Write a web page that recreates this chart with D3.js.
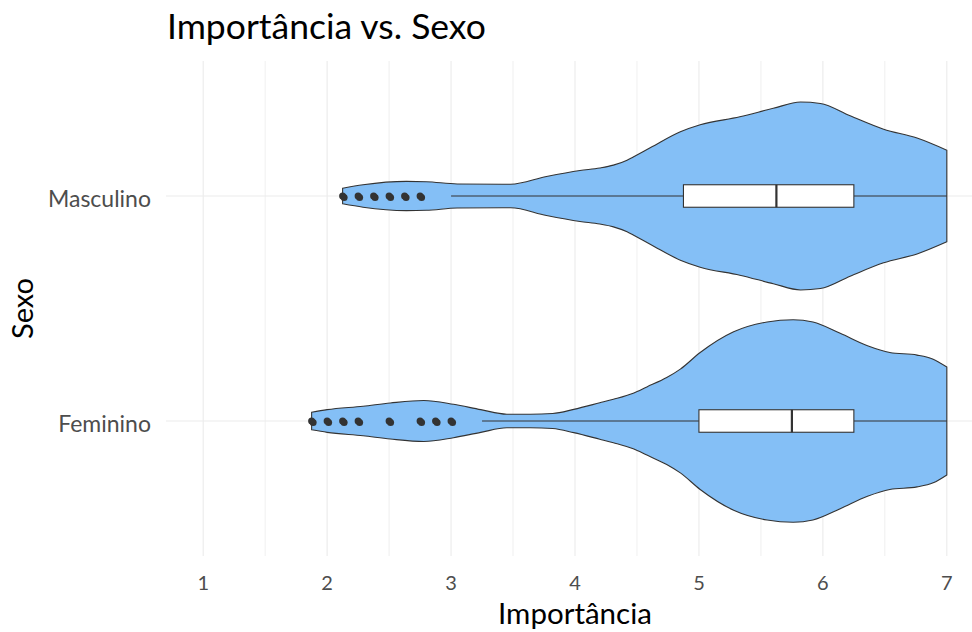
<!DOCTYPE html>
<html>
<head>
<meta charset="utf-8">
<script src="https://cdn.jsdelivr.net/npm/d3@7"></script>
<style>
  html, body { margin: 0; padding: 0; background: #fff; }
  svg { display: block; }
  text { font-family: Lato, "Open Sans", sans-serif; }
</style>
</head>
<body>
<svg id="chart" width="972" height="632"></svg>
<script>
// ---- data ----
const categories = ["Masculino", "Feminino"];
const xTicks = [1, 2, 3, 4, 5, 6, 7];
const xMinorTicks = [1.5, 2.5, 3.5, 4.5, 5.5, 6.5];

// violin density profiles (value grid, relative width)
const mascGrid  = [2.125, 2.29, 2.64, 2.80, 3.05, 3.48, 3.77, 4.04, 4.20, 4.31, 4.42, 4.47, 4.61, 4.85, 5.01, 5.33, 5.60, 5.82, 5.98, 6.22, 6.49, 6.76, 7.0];
const mascWidth = [0.077, 0.111, 0.144, 0.141, 0.119, 0.116, 0.193, 0.252, 0.277, 0.305, 0.354, 0.386, 0.478, 0.634, 0.703, 0.782, 0.866, 0.928, 0.914, 0.792, 0.660, 0.572, 0.452];

const femGrid  = [1.875, 2.0, 2.29, 2.51, 2.78, 3.02, 3.24, 3.45, 3.64, 3.82, 3.99, 4.20, 4.31, 4.47, 4.58, 4.74, 4.85, 5.01, 5.28, 5.55, 5.76, 5.92, 6.14, 6.36, 6.54, 6.76, 6.89, 7.0];
const femWidth = [0.087, 0.112, 0.146, 0.178, 0.203, 0.165, 0.112, 0.067, 0.066, 0.074, 0.115, 0.180, 0.215, 0.275, 0.337, 0.429, 0.512, 0.676, 0.881, 0.978, 1.0, 0.977, 0.866, 0.743, 0.676, 0.651, 0.611, 0.533];

// boxplot stats: [q1, median, q3], whiskers [low, high]
const mascBox = [4.875, 5.625, 6.25];
const mascWhisker = [3.0, 7.0];
const mascOutliers = [2.125, 2.25, 2.375, 2.5, 2.625, 2.75];

const femBox = [5.0, 5.75, 6.25];
const femWhisker = [3.25, 7.0];
const femOutliers = [1.875, 2.0, 2.125, 2.25, 2.5, 2.75, 2.875, 3.0];

const titleText = "Importância vs. Sexo";
const xLabel = "Importância";
const yLabel = "Sexo";

// ---- layout ----
const panel = { left: 166, right: 984, top: 61, bottom: 556 };
const svg = d3.select("#chart");

const x = d3.scaleLinear().domain([0.7, 7.3]).range([panel.left, panel.right]);
const y = d3.scalePoint().domain(categories).range([panel.top, panel.bottom]).padding(0.6);
const step = y.step();
const halfW = d3.scaleLinear().domain([0, 1]).range([0, step * 0.45]);
const boxHalf = step * 0.05;

const gridColor = "#EBEBEB";
const ink = "#333333";
const fill = "#84BFF6";

// grid
const g = svg.append("g");
g.selectAll(".minor").data(xMinorTicks).join("line")
  .attr("x1", d => x(d)).attr("x2", d => x(d))
  .attr("y1", panel.top).attr("y2", panel.bottom)
  .attr("stroke", gridColor).attr("stroke-width", 0.8);
g.selectAll(".major").data(xTicks).join("line")
  .attr("x1", d => x(d)).attr("x2", d => x(d))
  .attr("y1", panel.top).attr("y2", panel.bottom)
  .attr("stroke", gridColor).attr("stroke-width", 1.1);
g.selectAll(".hgrid").data(categories).join("line")
  .attr("x1", panel.left).attr("x2", 972)
  .attr("y1", d => y(d)).attr("y2", d => y(d))
  .attr("stroke", gridColor).attr("stroke-width", 1.1);

const groups = [
  { cat: "Masculino", grid: mascGrid, width: mascWidth, box: mascBox, wh: mascWhisker, out: mascOutliers },
  { cat: "Feminino", grid: femGrid, width: femWidth, box: femBox, wh: femWhisker, out: femOutliers }
];

groups.forEach(gr => {
  const cy = y(gr.cat);
  const pts = gr.grid.map((v, i) => ({ v, w: gr.width[i] }));
  const area = d3.area()
    .x(d => x(d.v))
    .y0(d => cy - halfW(d.w))
    .y1(d => cy + halfW(d.w))
    .curve(d3.curveMonotoneX);
  svg.append("path").attr("d", area(pts))
    .attr("fill", fill).attr("stroke", ink).attr("stroke-width", 1.1);

  // whiskers
  svg.append("line")
    .attr("x1", x(gr.wh[0])).attr("x2", x(gr.box[0]))
    .attr("y1", cy).attr("y2", cy)
    .attr("stroke", ink).attr("stroke-width", 1.1);
  svg.append("line")
    .attr("x1", x(gr.box[2])).attr("x2", x(gr.wh[1]))
    .attr("y1", cy).attr("y2", cy)
    .attr("stroke", ink).attr("stroke-width", 1.1);
  // box
  svg.append("rect")
    .attr("x", x(gr.box[0])).attr("y", cy - boxHalf)
    .attr("width", x(gr.box[2]) - x(gr.box[0])).attr("height", boxHalf * 2)
    .attr("fill", "#ffffff").attr("stroke", ink).attr("stroke-width", 1.1);
  svg.append("line")
    .attr("x1", x(gr.box[1])).attr("x2", x(gr.box[1]))
    .attr("y1", cy - boxHalf).attr("y2", cy + boxHalf)
    .attr("stroke", ink).attr("stroke-width", 2.2);
  // outliers
  svg.append("g").selectAll("circle").data(gr.out).join("circle")
    .attr("cx", d => x(d) + 1.5).attr("cy", cy + 1.5)
    .attr("r", 3.5).attr("fill", ink);
  svg.append("g").selectAll("circle").data(gr.out).join("circle")
    .attr("cx", d => x(d)).attr("cy", cy)
    .attr("r", 3.5).attr("fill", ink);
});

// axes labels
svg.append("g").selectAll("text").data(xTicks).join("text")
  .attr("x", d => x(d)).attr("y", 590)
  .attr("text-anchor", "middle")
  .attr("font-size", 20).attr("fill", "#4D4D4D")
  .text(d => d);

svg.append("g").selectAll("text").data(categories).join("text")
  .attr("x", 151).attr("y", d => y(d) + 10.5)
  .attr("text-anchor", "end")
  .attr("font-size", 23).attr("fill", "#4D4D4D")
  .text(d => d);

svg.append("text")
  .attr("x", (panel.left + panel.right) / 2).attr("y", 624)
  .attr("text-anchor", "middle")
  .attr("font-size", 29.5).attr("fill", "#000")
  .text(xLabel);

svg.append("text")
  .attr("transform", `translate(33, ${(panel.top + panel.bottom) / 2}) rotate(-90)`)
  .attr("text-anchor", "middle")
  .attr("font-size", 29).attr("fill", "#000")
  .text(yLabel);

svg.append("text")
  .attr("x", 167).attr("y", 39)
  .attr("font-size", 35.5).attr("fill", "#000")
  .text(titleText);
</script>
</body>
</html>
